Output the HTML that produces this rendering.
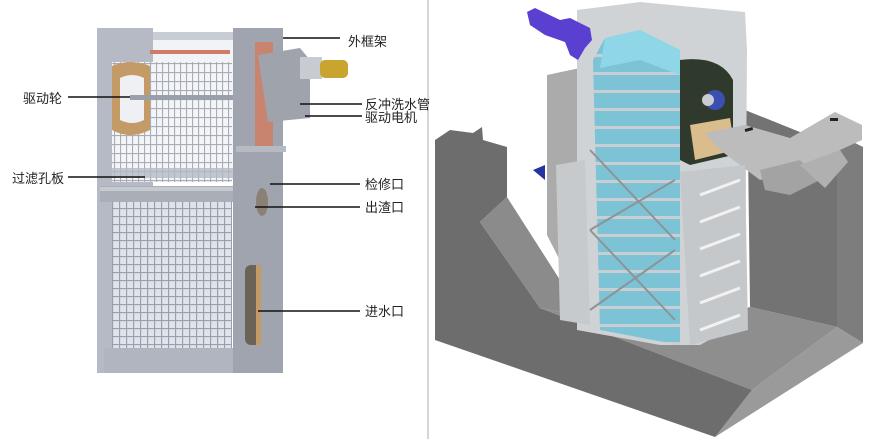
<!DOCTYPE html>
<html><head><meta charset="utf-8"><style>
html,body{margin:0;padding:0;background:#fff;}
svg{display:block}
text{font-family:"Liberation Sans","Noto Sans CJK SC",sans-serif;font-size:13px;fill:#222}
</style></head><body>
<svg width="890" height="439" viewBox="0 0 890 439" xmlns="http://www.w3.org/2000/svg">
<defs>
<pattern id="grid" width="7" height="8" patternUnits="userSpaceOnUse">
<rect width="7" height="8" fill="#dfe3ea"/>
<path d="M0 0.5H7M0.5 0V8" stroke="#9aa0aa" stroke-width="1.3"/>
</pattern>
<pattern id="grid2" width="6" height="9" patternUnits="userSpaceOnUse">
<rect width="6" height="9" fill="#f4f5f8"/>
<path d="M0 0.5H6M0.5 0V9" stroke="#a7acb5" stroke-width="1.2"/>
</pattern>
<pattern id="slats" width="20" height="18" patternUnits="userSpaceOnUse">
<rect width="20" height="18" fill="#7cc3d6"/>
<rect y="0" width="20" height="3" fill="#c9ced3"/>
</pattern>
</defs>
<rect width="890" height="439" fill="#fff"/>
<!-- LEFT: machine -->
<rect x="97" y="28" width="56" height="345" fill="#b5bac4"/>
<rect x="153" y="32" width="82" height="10" fill="#c8ccd4"/>
<rect x="153" y="40" width="82" height="140" fill="#f2f3f6"/>
<rect x="150" y="50" width="80" height="4" fill="#d07a6a"/>
<rect x="112" y="62" width="120" height="120" fill="url(#grid2)"/>
<path d="M112 66 Q130 58 150 66 L150 130 Q130 140 112 130Z" fill="#c49a66"/>
<path d="M120 78 Q132 72 144 78 L144 120 Q132 126 120 120Z" fill="#eef0f3"/>
<rect x="130" y="95" width="105" height="5" fill="#9aa0aa"/>
<rect x="112" y="168" width="125" height="10" fill="#b5bac4" opacity="0.8"/>
<rect x="100" y="186" width="140" height="16" fill="#a9aeb7"/>
<rect x="100" y="187" width="140" height="4" fill="#c5c9d0"/>
<rect x="112" y="202" width="120" height="150" fill="url(#grid)"/>
<rect x="104" y="348" width="130" height="25" fill="#b0b5bf"/>
<rect x="233" y="28" width="50" height="345" fill="#9fa4ae"/>
<rect x="236" y="146" width="50" height="6" fill="#b6bac3"/>
<rect x="255" y="42" width="18" height="104" fill="#c9846f"/>
<path d="M258 55 L300 48 L310 60 L310 118 L268 122 Z" fill="#9ea3ac"/>
<rect x="300" y="57" width="22" height="22" fill="#c8ccd2"/>
<rect x="320" y="60" width="28" height="18" rx="5" fill="#c9a42f"/>
<ellipse cx="262" cy="202" rx="6" ry="14" fill="#8a8073"/>
<rect x="245" y="265" width="16" height="80" rx="6" fill="#6b6258"/>
<rect x="256" y="265" width="5" height="80" fill="#c49a66"/>
<line x1="428" y1="0" x2="428" y2="439" stroke="#d6d6d6" stroke-width="2"/>
<g stroke="#111" stroke-width="1.5">
<line x1="68" y1="97" x2="130" y2="97"/>
<line x1="68" y1="177" x2="145" y2="177"/>
<line x1="283" y1="38" x2="340" y2="38"/>
<line x1="300" y1="104" x2="362" y2="104"/>
<line x1="305" y1="116" x2="362" y2="116"/>
<line x1="270" y1="184" x2="360" y2="184"/>
<line x1="255" y1="207" x2="360" y2="207"/>
<line x1="258" y1="311" x2="360" y2="311"/>
</g>
<text x="23" y="103">驱动轮</text>
<text x="12" y="183">过滤孔板</text>
<text x="348" y="46">外框架</text>
<text x="365" y="109">反冲洗水管</text>
<text x="365" y="122">驱动电机</text>
<text x="365" y="189">检修口</text>
<text x="365" y="212">出渣口</text>
<text x="365" y="316">进水口</text>
<!-- RIGHT -->
<polygon points="547,75 580,68 580,300 547,235" fill="#ababab"/>
<polygon points="745,110 790,128 837,147 837,327 750,307 748,150" fill="#737373"/>
<polygon points="837,147 853,142 863,147 863,343 837,327" fill="#7d7d7d"/>
<polygon points="540,308 663,333 750,307 837,327 752,390" fill="#8e8e8e"/>
<polygon points="752,390 837,327 863,343 715,437" fill="#9a9a9a"/>
<polygon points="435,140 450,130 473,133 482,127 483,140 507,147 507,197 480,222 540,308 752,390 715,437 435,340" fill="#6d6d6d"/>
<polygon points="480,222 507,197 560,280 663,333 540,308" fill="#8b8b8b"/>
<!-- tower -->
<polygon points="577,10 640,2 745,12 747,50 745,320 700,345 660,345 577,330" fill="#cfd3d6"/>
<polygon points="556,165 585,160 590,325 560,320" fill="#c6cacd"/>
<polygon points="593,60 605,38 640,30 680,50 680,345 600,330" fill="url(#slats)"/>
<polygon points="605,38 640,30 680,50 680,75 640,60 600,68" fill="#8fd6e8"/>
<path d="M680 60 Q720 55 733 80 L733 155 L690 165 L680 160Z" fill="#2f3a2c"/>
<circle cx="715" cy="100" r="10" fill="#3b4fb0"/>
<circle cx="708" cy="100" r="6" fill="#c9ccd0"/>
<polygon points="690,125 730,118 735,150 695,160" fill="#d9bd8c"/>
<!-- trough -->
<polygon points="705,133 745,125 790,138 835,112 862,125 862,140 840,150 800,170 760,180 720,150" fill="#bcbcbc"/>
<polygon points="760,170 800,160 820,180 790,195 765,190" fill="#a3a3a3"/>
<polygon points="800,165 840,150 848,162 825,188" fill="#b0b0b0"/>
<rect x="745" y="128" width="8" height="3" fill="#222" transform="rotate(-15 749 130)"/>
<rect x="830" y="118" width="8" height="3" fill="#222"/>
<g stroke="#8d9397" stroke-width="2">
<line x1="590" y1="150" x2="675" y2="240"/><line x1="675" y1="180" x2="590" y2="230"/>
<line x1="590" y1="230" x2="675" y2="320"/><line x1="675" y1="250" x2="590" y2="310"/>
</g>
<polygon points="680,172 745,165 748,330 690,345" fill="#c4c8cb"/>
<g stroke="#f2f2f2" stroke-width="3">
<line x1="700" y1="195" x2="740" y2="180"/><line x1="700" y1="222" x2="740" y2="207"/>
<line x1="700" y1="249" x2="740" y2="234"/><line x1="700" y1="276" x2="740" y2="261"/>
<line x1="700" y1="303" x2="740" y2="288"/><line x1="700" y1="330" x2="740" y2="315"/>
</g>
<polygon points="527,12 535,8 560,20 570,18 590,28 592,40 585,48 578,60 570,55 565,42 545,35 530,25" fill="#5b3fd1"/>
<polygon points="533,170 545,165 545,180" fill="#2433a0"/>
</svg>
</body></html>
